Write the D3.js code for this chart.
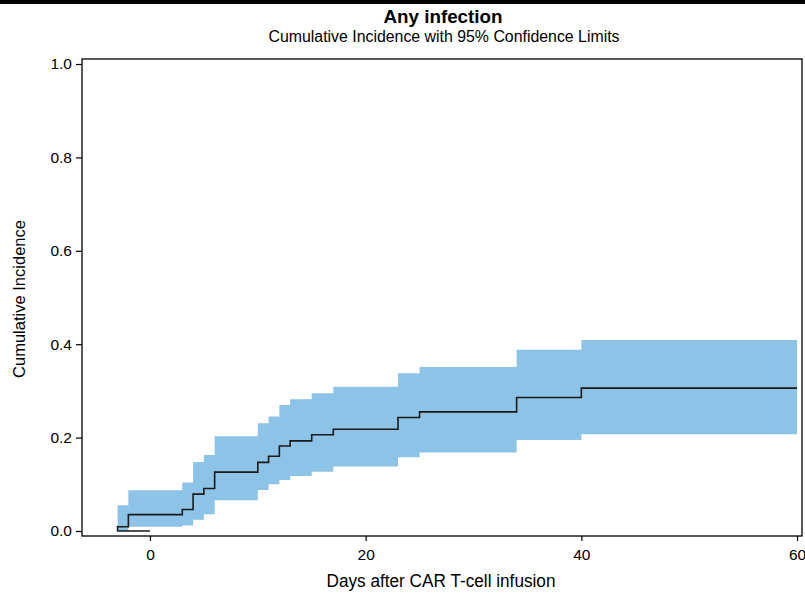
<!DOCTYPE html>
<html>
<head>
<meta charset="utf-8">
<script src="https://cdn.jsdelivr.net/npm/d3@7"></script>
<style>
  html, body { margin: 0; padding: 0; background: #fff; }
  svg { display: block; font-family: "Liberation Sans", Arial, sans-serif; }
</style>
</head>
<body>
<svg id="chart" width="805" height="593"></svg>
<script>
// Cumulative incidence step curve (first point at day 0 = start of the SAS-style path)
const curveDays = [0, -3, -2, 3, 4, 5, 6, 10, 11, 12, 13, 15, 17, 23, 25, 34, 40, 60];
const curveCI   = [0, 0.009, 0.035, 0.046, 0.079, 0.091, 0.126, 0.147, 0.160, 0.182, 0.193, 0.206, 0.218, 0.243, 0.255, 0.286, 0.306, 0.306];

// 95% confidence limits, one value per interval starting at each day
const bandDays  = [-3, -2, 3, 4, 5, 6, 10, 11, 12, 13, 15, 17, 23, 25, 34, 40, 60];
const bandLower = [0.0, 0.009, 0.012, 0.024, 0.036, 0.066, 0.088, 0.100, 0.109, 0.118, 0.127, 0.138, 0.158, 0.168, 0.195, 0.207, 0.207];
const bandUpper = [0.055, 0.087, 0.104, 0.148, 0.163, 0.203, 0.231, 0.245, 0.270, 0.282, 0.295, 0.309, 0.338, 0.351, 0.388, 0.409, 0.409];

const xTicks = [0, 20, 40, 60];
const yTicks = [0, 0.2, 0.4, 0.6, 0.8, 1.0];

const titleText = "Any infection";
const subtitleText = "Cumulative Incidence with 95% Confidence Limits";
const xLabel = "Days after CAR T-cell infusion";
const yLabel = "Cumulative Incidence";

const svg = d3.select("#chart");
const W = 805, H = 593;
const plot = { left: 82, top: 59, right: 802, bottom: 536 };

const x = d3.scaleLinear().domain([-6.3, 60.46]).range([plot.left, plot.right]);
const y = d3.scaleLinear().domain([-0.0107, 1.0107]).range([plot.bottom, plot.top]);

// thin black strip across the top edge
svg.append("rect").attr("x", 0).attr("y", 0).attr("width", W).attr("height", 4).attr("fill", "#000");

// titles (slightly condensed sans text)
svg.append("text").attr("x", 443).attr("y", 23).attr("text-anchor", "middle")
  .attr("font-size", 19).attr("font-weight", "bold").attr("fill", "#000")
  .attr("textLength", 119).attr("lengthAdjust", "spacingAndGlyphs").text(titleText);
svg.append("text").attr("x", 444).attr("y", 42).attr("text-anchor", "middle")
  .attr("font-size", 16).attr("fill", "#000")
  .attr("textLength", 351).attr("lengthAdjust", "spacingAndGlyphs").text(subtitleText);

const g = svg.append("g");

// confidence band
const band = bandDays.map((d, i) => ({ d, lo: bandLower[i], hi: bandUpper[i] }));
g.append("path").datum(band)
  .attr("fill", "#8cc3e6")
  .attr("d", d3.area().curve(d3.curveStepAfter)
    .x(p => x(p.d)).y0(p => y(p.lo)).y1(p => y(p.hi)));

// incidence curve
const pts = curveDays.map((d, i) => [d, curveCI[i]]);
g.append("path").datum(pts)
  .attr("fill", "none").attr("stroke", "#1a1a1a").attr("stroke-width", 1.6)
  .attr("d", d3.line().curve(d3.curveStepAfter).x(p => x(p[0])).y(p => y(p[1])));

// frame
svg.append("rect").attr("x", plot.left).attr("y", plot.top)
  .attr("width", plot.right - plot.left).attr("height", plot.bottom - plot.top)
  .attr("fill", "none").attr("stroke", "#000").attr("stroke-width", 1.3);

// axes
const xAxis = d3.axisBottom(x).tickValues(xTicks).tickFormat(d3.format("d")).tickSize(5).tickPadding(8);
const yAxis = d3.axisLeft(y).tickValues(yTicks).tickFormat(d3.format(".1f")).tickSize(6).tickPadding(4);

const gx = svg.append("g").attr("transform", `translate(0,${plot.bottom})`).call(xAxis);
const gy = svg.append("g").attr("transform", `translate(${plot.left},0)`).call(yAxis);
[gx, gy].forEach(a => {
  a.select(".domain").remove();
  a.selectAll(".tick line").attr("stroke", "#000").attr("stroke-width", 1.2);
  a.selectAll(".tick text").attr("font-size", 15.5).attr("fill", "#000")
    .attr("font-family", "\"Liberation Sans\", Arial, sans-serif");
});

// axis labels
svg.append("text").attr("x", 441).attr("y", 587).attr("text-anchor", "middle")
  .attr("font-size", 17.5).attr("fill", "#000")
  .attr("textLength", 229).attr("lengthAdjust", "spacingAndGlyphs").text(xLabel);
svg.append("text").attr("transform", "translate(25,299) rotate(-90)").attr("text-anchor", "middle")
  .attr("font-size", 17).attr("fill", "#000")
  .attr("textLength", 158).attr("lengthAdjust", "spacingAndGlyphs").text(yLabel);
</script>
</body>
</html>
